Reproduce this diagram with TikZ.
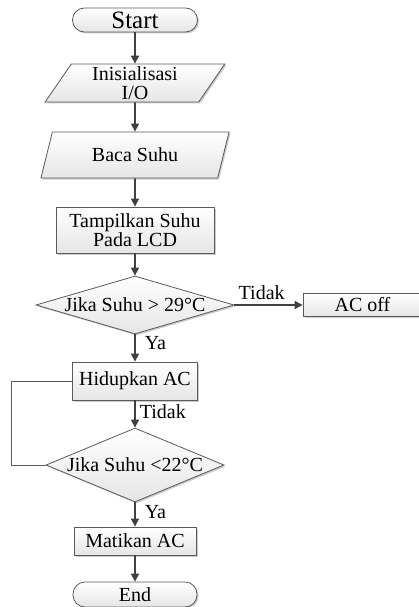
\documentclass[tikz,border=0pt]{standalone}
\usepackage{fontspec}
\setmainfont{Liberation Serif}
\usetikzlibrary{shapes.geometric,arrows.meta,shadows}

\definecolor{linegray}{HTML}{404040}
\definecolor{boxedge}{HTML}{5A5A5A}

\begin{document}
\begin{tikzpicture}[x=1pt,y=-1pt]
  \def\ft{\fontsize{20}{19}\selectfont}
  \def\fst{\fontsize{25}{28}\selectfont}

\tikzstyle{box}=[draw=boxedge,line width=0.8pt,top color=white,bottom color=black!10,drop shadow={shadow xshift=1.5pt,shadow yshift=-1.5pt,fill=black!40,opacity=.5},font=\ft,align=center,inner sep=0pt]
\tikzstyle{proc}=[box,rectangle]
\tikzstyle{term}=[box,rectangle,rounded corners=12pt]
\tikzstyle{io}=[box,trapezium,trapezium stretches=true]
\tikzstyle{cond}=[box,diamond]
\tikzstyle{flow}=[draw=linegray,line width=1.6pt,-{Triangle[length=8pt,width=8pt]}]
\tikzstyle{backline}=[draw=boxedge,line width=1pt,-]
\tikzstyle{lbl}=[font=\ft,inner sep=1pt]

\useasboundingbox (0,0) rectangle (419,607);
\node[term,minimum width=125pt,minimum height=24pt,font=\fst] (start) at (135,20) {Start};
\node[io,trapezium left angle=62,trapezium right angle=118,minimum width=180pt,minimum height=38pt] (init) at (135,83) {Inisialisasi\\I/O};
\node[io,trapezium left angle=67,trapezium right angle=113,minimum width=190pt,minimum height=46pt] (baca) at (135,155) {Baca Suhu};
\node[proc,minimum width=158pt,minimum height=46pt] (tampil) at (135,230) {Tampilkan Suhu\\Pada LCD};
\node[cond,aspect=3.4,minimum width=198pt,minimum height=58pt] (cek1) at (135,305) {Jika Suhu > 29°C};
\node[proc,minimum width=119pt,minimum height=23pt] (acoff) at (362.5,305) {AC off};
\node[proc,minimum width=125pt,minimum height=38pt] (hidup) at (135,381) {Hidupkan AC};
\node[cond,aspect=2.4,minimum width=178pt,minimum height=74pt] (cek2) at (135,465) {Jika Suhu <22°C};
\node[proc,minimum width=122pt,minimum height=28pt] (mati) at (135,541) {Matikan AC};
\node[term,minimum width=124pt,minimum height=25pt] (end) at (135,594.5) {End};

\draw[flow] (start) -- (init);
\draw[flow] (init) -- (baca);
\draw[flow] (baca) -- (tampil);
\draw[flow] (tampil) -- (cek1);
\draw[flow] (cek1) -- node[lbl,above=4pt,pos=.4] {Tidak} (acoff);
\draw[flow] (cek1) -- node[lbl,right=8pt,pos=.3] {Ya} (hidup);
\draw[flow] (hidup) -- node[lbl,right=3pt,pos=.4] {Tidak} (cek2);
\draw[flow] (cek2) -- node[lbl,right=8pt,pos=.4] {Ya} (mati);
\draw[flow] (mati) -- (end);
\draw[backline] (hidup.west) -- ++(-61,0) |- (cek2.west);
\end{tikzpicture}
\end{document}
